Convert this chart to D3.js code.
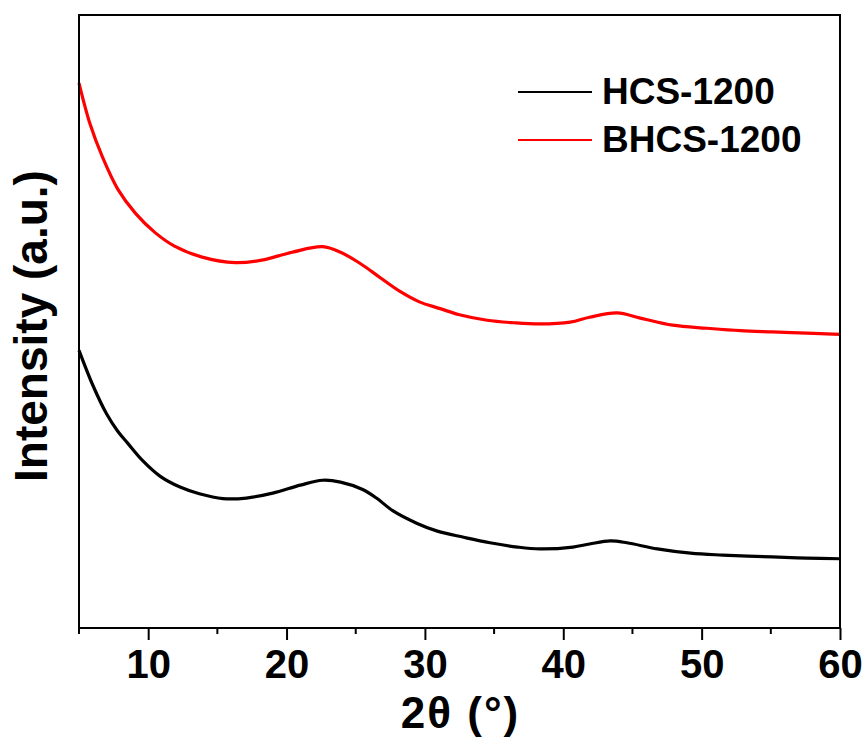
<!DOCTYPE html>
<html>
<head>
<meta charset="utf-8">
<script src="https://cdn.jsdelivr.net/npm/d3@7"></script>
<style>
  html, body { margin: 0; padding: 0; background: #fff; }
  svg text { font-family: "Liberation Sans", Arial, sans-serif; font-weight: bold; fill: #000; }
</style>
</head>
<body>
<svg id="chart" width="867" height="749"></svg>
<script>
// XRD patterns, 2θ in degrees, intensity in arbitrary units
const thetaHCS = [5.0, 6.0, 7.0, 7.8, 8.5, 9.6, 10.9, 12.3, 13.7, 15.4, 17.1, 19.0, 21.0, 22.6, 23.9, 25.5, 26.5, 27.7, 29.4, 30.9, 32.8, 34.7, 36.7, 38.3, 40.7, 41.9, 43.4, 44.6, 46.8, 49.2, 51.5, 55.1, 57.6, 60.0];
const intensityHCS = [453, 396, 349, 321, 302, 273, 247, 230, 219, 211, 212, 220, 233, 241, 238, 226, 212, 191, 171, 158, 148, 139, 132, 129, 132, 137, 142, 139, 129, 122, 119, 116, 114, 113];

const thetaBHCS = [5.0, 5.8, 6.7, 7.8, 9.1, 10.5, 11.9, 13.9, 16.3, 18.2, 20.4, 22.6, 23.9, 25.3, 26.8, 28.2, 29.6, 31.1, 32.5, 34.5, 36.4, 38.3, 40.5, 41.9, 43.9, 45.5, 47.9, 50.4, 52.8, 55.1, 57.6, 60.0];
const intensityBHCS = [889, 822, 768, 716, 676, 645, 623, 605, 596, 600, 613, 622, 613, 595, 571, 549, 532, 521, 511, 502, 498, 496, 499, 507, 514, 506, 494, 489, 485, 483, 481, 479];

const seriesNames = ["HCS-1200", "BHCS-1200"];
const seriesColors = ["#000000", "#ff0000"];
const xTicks = [10, 20, 30, 40, 50, 60];
const xMinorTicks = [5, 15, 25, 35, 45, 55];

const series = [
  { name: seriesNames[0], color: seriesColors[0], pts: thetaHCS.map((t, i) => [t, intensityHCS[i]]) },
  { name: seriesNames[1], color: seriesColors[1], pts: thetaBHCS.map((t, i) => [t, intensityBHCS[i]]) }
];

const svg = d3.select("#chart");
const m = { left: 79, right: 840, top: 15, bottom: 628 };

const x = d3.scaleLinear().domain([5, 60]).range([m.left, m.right]);
const y = d3.scaleLinear().domain([0, 1000]).range([m.bottom, m.top]);

// diffraction curves
const line = d3.line().x(d => x(d[0])).y(d => y(d[1])).curve(d3.curveCatmullRom.alpha(0.5));
svg.append("g").selectAll("path").data(series).join("path")
  .attr("d", d => line(d.pts))
  .attr("fill", "none")
  .attr("stroke", d => d.color)
  .attr("stroke-width", 3.2)
  .attr("stroke-linejoin", "round");

// frame
svg.append("rect")
  .attr("x", m.left).attr("y", m.top)
  .attr("width", m.right - m.left).attr("height", m.bottom - m.top)
  .attr("fill", "none").attr("stroke", "#000").attr("stroke-width", 2);

// bottom axis with major and minor ticks
const xAxis = svg.append("g").attr("transform", `translate(0,${m.bottom})`);
xAxis.call(d3.axisBottom(x).tickValues(xTicks).tickSize(12).tickPadding(10).tickFormat(d3.format("d")))
  .call(g => g.select(".domain").remove())
  .call(g => g.selectAll(".tick line").attr("stroke-width", 2))
  .call(g => g.selectAll(".tick text").attr("font-size", 40).attr("font-family", null).attr("fill", "#000"));
xAxis.append("g").selectAll("line").data(xMinorTicks).join("line")
  .attr("x1", d => x(d)).attr("x2", d => x(d))
  .attr("y1", 0).attr("y2", 6)
  .attr("stroke", "#000").attr("stroke-width", 2);

// axis titles
svg.append("text")
  .attr("x", (m.left + m.right) / 2 + 1).attr("y", 728)
  .attr("text-anchor", "middle").attr("font-size", 44)
  .attr("letter-spacing", 2)
  .text("2θ (°)");
svg.append("text")
  .attr("transform", "translate(47,326) rotate(-90)")
  .attr("text-anchor", "middle").attr("font-size", 46)
  .text("Intensity (a.u.)");

// legend
const legend = svg.append("g");
series.forEach((s, i) => {
  const ly = 92 + i * 48;
  legend.append("line")
    .attr("x1", 518).attr("x2", 592).attr("y1", ly).attr("y2", ly)
    .attr("stroke", s.color).attr("stroke-width", 2);
  legend.append("text")
    .attr("x", 602).attr("y", ly + 12)
    .attr("font-size", 37)
    .text(s.name);
});
</script>
</body>
</html>
